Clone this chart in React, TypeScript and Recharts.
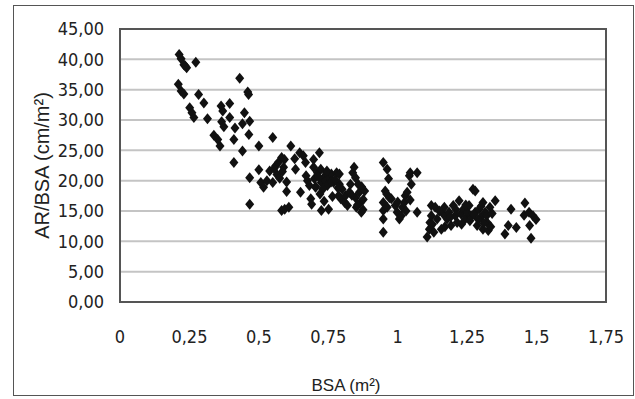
import { ScatterChart, Scatter, XAxis, YAxis, CartesianGrid, ReferenceArea } from 'recharts';

// BSA (m²) vs AR/BSA (cm/m²), grouped by BSA range
const smallBsa: [number, number][] = [
  [0.213, 40.8], [0.22, 40.1], [0.23, 39.1], [0.24, 38.6], [0.235, 38.9], [0.273, 39.5],
  [0.21, 35.9], [0.22, 34.8], [0.23, 34.3], [0.283, 34.2], [0.302, 32.8], [0.251, 32.0],
  [0.259, 31.2], [0.266, 30.4], [0.315, 30.2], [0.338, 27.5], [0.352, 26.8], [0.36, 25.7],
  [0.364, 32.3], [0.37, 31.5], [0.366, 29.7], [0.374, 28.9], [0.395, 32.7], [0.395, 30.4],
  [0.414, 28.7], [0.41, 26.8], [0.41, 23.0], [0.431, 36.9], [0.441, 29.4], [0.441, 24.9],
  [0.448, 31.2], [0.46, 34.6], [0.463, 34.2], [0.467, 29.8], [0.464, 27.6], [0.467, 20.5],
  [0.467, 16.1],
];

const midBsa: [number, number][] = [
  [0.5, 25.7], [0.5, 21.8], [0.507, 19.7], [0.517, 18.9], [0.529, 20.0], [0.539, 21.6],
  [0.55, 27.1], [0.55, 19.7], [0.56, 22.4], [0.57, 23.0], [0.582, 23.8], [0.589, 22.2],
  [0.592, 23.5], [0.6, 19.8], [0.6, 18.2], [0.582, 15.1], [0.593, 15.3], [0.608, 15.6],
  [0.615, 25.7], [0.629, 23.6], [0.632, 21.9], [0.647, 24.6], [0.65, 18.1], [0.66, 24.1],
  [0.668, 23.0], [0.67, 20.8], [0.675, 20.0], [0.682, 19.2], [0.687, 17.0], [0.69, 16.1],
  [0.697, 22.2], [0.697, 23.5], [0.7, 20.3], [0.704, 18.9], [0.711, 21.3], [0.718, 24.6],
  [0.723, 21.9], [0.725, 19.7], [0.725, 15.1], [0.733, 20.5], [0.74, 20.0], [0.743, 21.3],
  [0.747, 19.2], [0.751, 15.3], [0.754, 20.5], [0.761, 21.1], [0.769, 19.7], [0.78, 21.3],
  [0.79, 21.1], [0.79, 19.4], [0.787, 17.5], [0.795, 17.0], [0.8, 18.6], [0.809, 16.4],
  [0.812, 17.5], [0.819, 15.9], [0.826, 18.1], [0.83, 19.4], [0.838, 21.3], [0.843, 22.2],
  [0.848, 20.5], [0.848, 17.2], [0.851, 15.6], [0.858, 19.4], [0.862, 18.1], [0.866, 16.4],
  [0.869, 14.8], [0.876, 16.9], [0.881, 18.3], [0.565, 21.0], [0.575, 20.4], [0.585, 21.5],
  [0.555, 22.0], [0.705, 19.0], [0.715, 20.6], [0.73, 18.6], [0.745, 21.6], [0.76, 19.8],
  [0.775, 20.2], [0.785, 18.8], [0.72, 17.8], [0.735, 16.6], [0.765, 17.4], [0.835, 17.6],
  [0.855, 16.0], [0.87, 19.0], [0.875, 15.2],
];

const nearOneBsa: [number, number][] = [
  [0.955, 18.3], [0.948, 23.0], [0.96, 17.8], [0.948, 16.4], [0.948, 15.1], [0.948, 13.7],
  [0.948, 11.5], [0.962, 21.9], [0.967, 20.3], [0.97, 17.2], [0.962, 15.6], [0.977, 17.0],
  [0.991, 15.9], [0.998, 14.8], [1.006, 13.7], [1.013, 14.2], [1.017, 15.6], [1.024, 16.4],
  [1.027, 17.5], [1.034, 18.1], [1.042, 20.8], [1.049, 19.4], [1.045, 21.3], [1.07, 21.3],
  [1.07, 14.8], [1.0, 16.5], [1.03, 15.0], [1.045, 16.8],
];

const largeBsa: [number, number][] = [
  [1.106, 10.7], [1.114, 12.0], [1.116, 13.1], [1.121, 14.2], [1.121, 15.9], [1.135, 15.6],
  [1.142, 13.7], [1.157, 12.0], [1.164, 14.5], [1.168, 15.6], [1.178, 13.7], [1.185, 14.8],
  [1.192, 12.6], [1.2, 15.9], [1.207, 14.2], [1.214, 13.1], [1.221, 16.7], [1.228, 14.5],
  [1.236, 15.3], [1.243, 13.7], [1.25, 14.8], [1.257, 15.9], [1.264, 14.2], [1.271, 18.6],
  [1.279, 18.3], [1.279, 14.8], [1.286, 12.6], [1.293, 15.3], [1.3, 14.0], [1.307, 16.4],
  [1.307, 12.0], [1.315, 14.8], [1.322, 13.1], [1.326, 11.8], [1.332, 15.6], [1.351, 16.7],
  [1.15, 15.0], [1.17, 12.4], [1.19, 14.0], [1.21, 15.2], [1.23, 12.8], [1.245, 16.0],
  [1.26, 13.4], [1.275, 14.4], [1.29, 13.6], [1.3, 15.8], [1.31, 13.0], [1.32, 14.2],
  [1.335, 12.4], [1.34, 14.6], [1.125, 12.8], [1.13, 11.5],
  [1.386, 11.2], [1.398, 12.6], [1.408, 15.3], [1.427, 12.3], [1.458, 16.3], [1.455, 14.3],
  [1.473, 14.8], [1.475, 12.6], [1.48, 10.5], [1.487, 14.2], [1.498, 13.6],
];

const xTicks = [0, 0.25, 0.5, 0.75, 1, 1.25, 1.5, 1.75];
const yTicks = [0, 5, 10, 15, 20, 25, 30, 35, 40, 45];

const points = [...smallBsa, ...midBsa, ...nearOneBsa, ...largeBsa].map(([bsa, ratio]) => ({ bsa, ratio }));

const tickFont = { fill: '#222', fontSize: 18, fontFamily: '"Liberation Sans Narrow", "DejaVu Sans Condensed", sans-serif' };

function Diamond(props: any) {
  const { cx, cy } = props;
  if (cx == null || cy == null) return null;
  return (
    <polygon
      points={`${cx},${cy - 5.5} ${cx + 4.5},${cy} ${cx},${cy + 5.5} ${cx - 4.5},${cy}`}
      fill="#111"
    />
  );
}

export default function App() {
  return (
    <div style={{ position: 'absolute', left: 0, top: 0, width: 635, height: 399, background: '#fff' }}>
      <div
        style={{
          position: 'absolute',
          left: 13,
          top: 5,
          width: 619,
          height: 389,
          border: '1.5px solid #555',
        }}
      />
      <ScatterChart width={635} height={399} margin={{ top: 29, right: 29, bottom: 0, left: 0 }}>
        <CartesianGrid vertical={false} stroke="#c4c4c4" strokeWidth={2} />
        <XAxis
          type="number"
          dataKey="bsa"
          domain={[0, 1.75]}
          ticks={xTicks}
          height={97}
          axisLine={false}
          tickLine={false}
          tickMargin={22}
          tick={tickFont}
          tickFormatter={(v: number) => String(v).replace('.', ',')}
          label={{ value: 'BSA (m²)', position: 'insideBottom', offset: 8, dx: -17, fill: '#222', fontSize: 17, fontFamily: 'Liberation Sans, Arial, sans-serif' }}
        />
        <YAxis
          type="number"
          dataKey="ratio"
          domain={[0, 45]}
          ticks={yTicks}
          width={120}
          axisLine={false}
          tickLine={false}
          tickMargin={10}
          tick={tickFont}
          tickFormatter={(v: number) => v.toFixed(2).replace('.', ',')}
          label={{
            content: ({ viewBox }: any) => {
              const x = viewBox.x + 42;
              const y = viewBox.y + viewBox.height / 2;
              return (
                <text
                  x={x}
                  y={y}
                  transform={`rotate(-90, ${x}, ${y})`}
                  textAnchor="middle"
                  dominantBaseline="central"
                  fill="#222"
                  fontSize={20}
                  fontFamily="Liberation Sans, Arial, sans-serif"
                >
                  AR/BSA (cm/m²)
                </text>
              );
            },
          }}
        />
        <ReferenceArea x1={0} x2={1.75} y1={0} y2={45} fill="none" stroke="#555" strokeWidth={2} ifOverflow="visible" />
        <Scatter data={points} shape={Diamond} isAnimationActive={false} />
      </ScatterChart>
    </div>
  );
}
